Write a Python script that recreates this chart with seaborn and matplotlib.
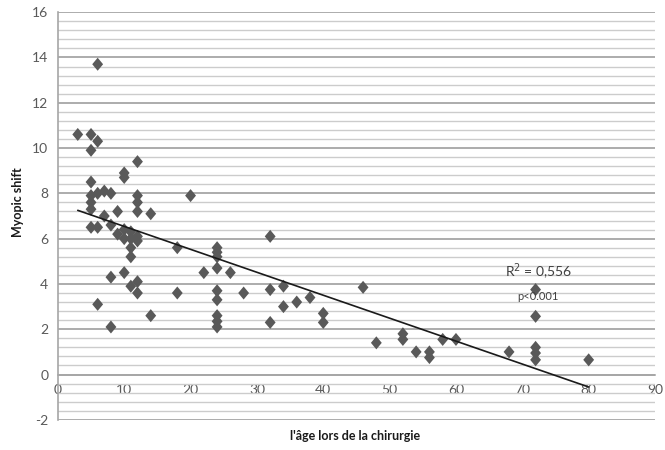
import numpy as np
import pandas as pd
import matplotlib
matplotlib.use("Agg")
import matplotlib.pyplot as plt
import seaborn as sns
from matplotlib.ticker import MultipleLocator
from matplotlib.path import Path

# ------------------------------------------------------------
# data
# ------------------------------------------------------------
age = [3, 5, 6, 5, 6, 12, 10, 10, 5, 6, 7, 8, 5, 5, 5,
       12, 12, 12, 9, 14, 5, 6, 7, 8, 9, 10, 11, 12, 11, 11,
       8, 10, 11, 12, 12, 6, 14, 8, 10, 12, 11,
       18, 20, 22, 24, 24, 24, 24, 26, 18, 24, 24, 28, 32, 32,
       34, 34, 36, 38, 40, 40, 24, 24, 24, 32, 46,
       48, 52, 52, 54, 56, 56, 58, 60, 68, 72, 72, 72, 72, 72, 80]
shift = [10.6, 10.6, 10.3, 9.9, 13.7, 9.4, 8.9, 8.7, 8.5, 8.0, 8.1, 8.0, 7.9, 7.6, 7.3,
         7.9, 7.6, 7.2, 7.2, 7.1, 6.5, 6.5, 7.0, 6.6, 6.2, 6.4, 6.3, 6.1, 5.6, 5.2,
         4.3, 4.5, 3.9, 4.1, 3.6, 3.1, 2.6, 2.1, 6.0, 5.9, 6.0,
         5.6, 7.9, 4.5, 5.6, 5.4, 5.2, 4.7, 4.5, 3.6, 3.7, 3.3, 3.6, 6.1, 3.75,
         3.9, 3.0, 3.2, 3.4, 2.7, 2.3, 2.6, 2.35, 2.1, 2.3, 3.85,
         1.4, 1.8, 1.55, 1.0, 1.0, 0.75, 1.55, 1.55, 1.0, 3.75, 2.57, 1.2, 0.95, 0.65, 0.65]

# linear trend line (ends)
trend_age = [3, 80]
trend_shift = [7.25, -0.55]

r2_label = "R$^2$ = 0,556"
p_label = "p<0.001"

x_ticks = list(range(0, 91, 10))
y_ticks = list(range(-2, 17, 2))

df = pd.DataFrame({"age": age, "shift": shift})

# Excel-like diamond, a bit taller than wide
diamond = Path([(0, 1.2), (1, 0), (0, -1.2), (-1, 0), (0, 1.2)],
               [Path.MOVETO, Path.LINETO, Path.LINETO, Path.LINETO, Path.CLOSEPOLY])

# ------------------------------------------------------------
# plot
# ------------------------------------------------------------
sns.set_style("white")
plt.rcParams["font.family"] = ["Lato", "DejaVu Sans"]
plt.rcParams["axes.unicode_minus"] = False

fig = plt.figure(figsize=(6.65, 4.5), dpi=100)
ax = fig.add_axes([0.087, 0.067, 0.898, 0.906])

# grid
ax.yaxis.set_major_locator(MultipleLocator(2))
ax.yaxis.set_minor_locator(MultipleLocator(0.4))
ax.grid(which="major", axis="y", color="#a6a6a6", linewidth=1.3)
ax.grid(which="minor", axis="y", color="#cccccc", linewidth=1.0)
ax.grid(axis="x", visible=False)
ax.set_axisbelow(True)

sns.scatterplot(data=df, x="age", y="shift", marker=diamond, s=88,
                color="#595959", edgecolor="none", ax=ax, zorder=3)
sns.lineplot(x=trend_age, y=trend_shift, color="#1a1a1a", linewidth=1.2, ax=ax, zorder=4)

ax.set_xlim(0, 90)
ax.set_ylim(-2, 16)
ax.set_xticks(x_ticks)
ax.set_yticks(y_ticks)

for s in ["top", "right"]:
    ax.spines[s].set_visible(False)
ax.spines["bottom"].set_position(("data", 0))
ax.spines["bottom"].set_color("#a6a6a6")
ax.spines["left"].set_color("#a6a6a6")
ax.spines["bottom"].set_linewidth(1.2)
ax.spines["left"].set_linewidth(1.2)

ax.tick_params(axis="both", which="major", direction="out", length=4, width=1,
               color="#a6a6a6", labelsize=10, labelcolor="#595959", pad=3)
ax.tick_params(axis="both", which="minor", length=0)

ax.set_xlabel("")
ax.set_ylabel("")
fig.text(0.534, 0.03, "l'âge lors de la chirurgie", ha="center", va="center",
         fontsize=9, fontweight="bold", color="#1a1a1a")
fig.text(0.027, 0.55, "Myopic shift", ha="center", va="center", rotation=90,
         fontsize=9, fontweight="bold", color="#1a1a1a")

ax.text(72.4, 4.55, r2_label, ha="center", va="center", fontsize=10, color="#404040", zorder=5)
ax.text(72.4, 3.45, p_label, ha="center", va="center", fontsize=8, color="#404040", zorder=5)

fig.savefig("out.png", dpi=100)
